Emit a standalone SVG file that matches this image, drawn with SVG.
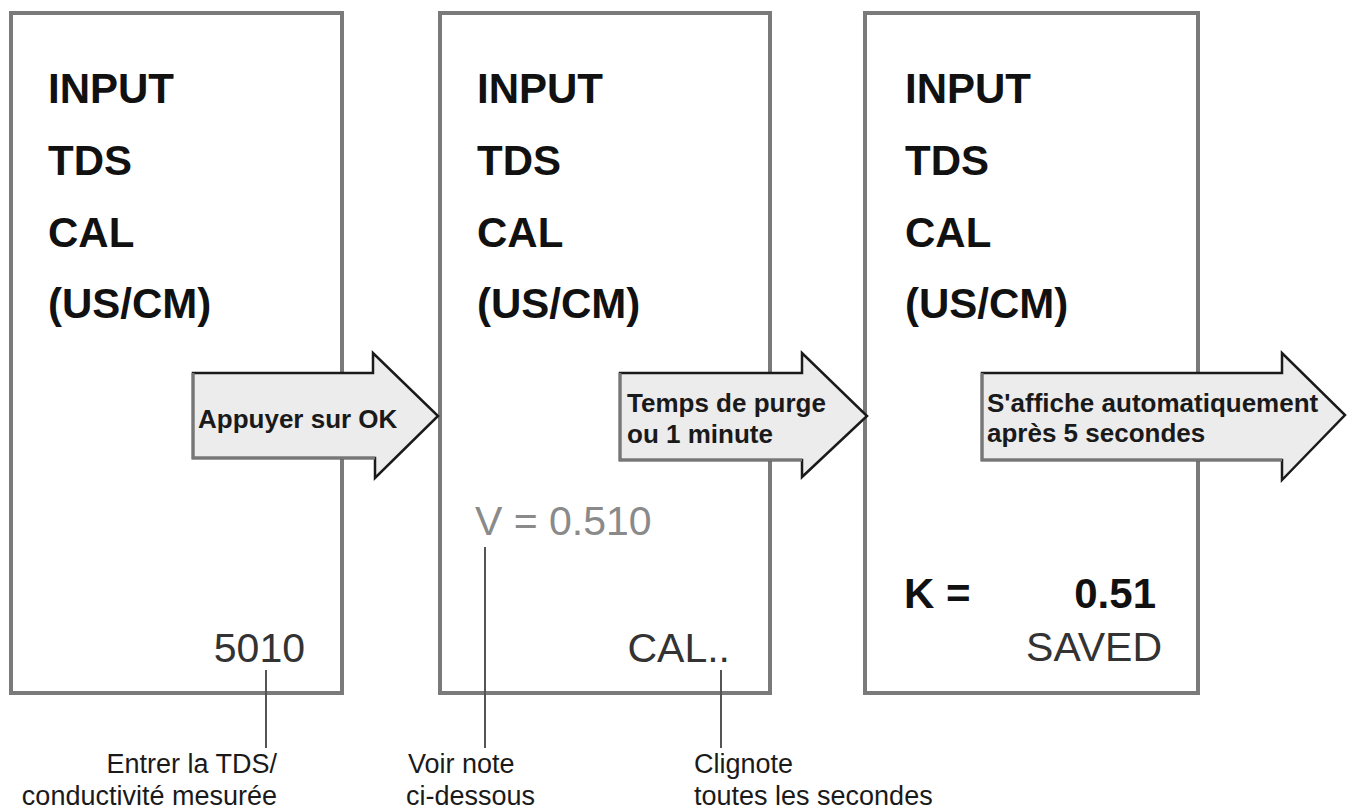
<svg xmlns="http://www.w3.org/2000/svg" width="1349" height="809" viewBox="0 0 1349 809">
<style>
.box{fill:#fff;stroke:#7a7a7a;stroke-width:4}
.big{font-family:"Liberation Sans",Arial,sans-serif;font-size:42px;font-weight:bold;fill:#111}
.disp{font-family:"Liberation Sans",Arial,sans-serif;font-size:41px;fill:#333}
.dim{fill:#8a8a8a}
.arrow{fill:#ececec;stroke:#1a1a1a;stroke-width:2.5;stroke-linejoin:miter}
.ashadow{fill:none;stroke:#777;stroke-width:3}
.atext{font-family:"Liberation Sans",Arial,sans-serif;font-size:26px;font-weight:bold;fill:#1a1a1a}
.note{font-family:"Liberation Sans",Arial,sans-serif;font-size:27px;fill:#1a1a1a}
.lead{stroke:#555;stroke-width:2;fill:none}
</style>
<rect width="1349" height="809" fill="#fff"/>

<g id="screen1">
<rect class="box" x="11" y="13" width="331" height="680"/>
<text class="big" x="48" y="103">INPUT</text>
<text class="big" x="48" y="175">TDS</text>
<text class="big" x="48" y="247">CAL</text>
<text class="big" x="48" y="318">(US/CM)</text>
<text class="disp" x="305" y="662" text-anchor="end">5010</text>
</g>

<g id="screen2">
<rect class="box" x="440" y="13" width="330" height="680"/>
<text class="big" x="477" y="103">INPUT</text>
<text class="big" x="477" y="175">TDS</text>
<text class="big" x="477" y="247">CAL</text>
<text class="big" x="477" y="318">(US/CM)</text>
<text class="disp dim" x="475" y="535" font-size="40">V = 0.510</text>
<text class="disp" x="730" y="662" text-anchor="end">CAL..</text>
</g>

<g id="screen3">
<rect class="box" x="865" y="13" width="333" height="680"/>
<text class="big" x="905" y="103">INPUT</text>
<text class="big" x="905" y="175">TDS</text>
<text class="big" x="905" y="247">CAL</text>
<text class="big" x="905" y="318">(US/CM)</text>
<text class="big" x="904" y="608" font-size="40">K =</text>
<text class="big" x="1156" y="608" font-size="40" text-anchor="end">0.51</text>
<text class="disp" x="1162" y="661" text-anchor="end">SAVED</text>
</g>

<g id="connectors">
<g id="arrow1">
<polygon class="arrow" points="193,373 373,373 373,353 438,416 375,478 375,458 193,458"/>
<polyline class="ashadow" points="193,373 193,458 375,458"/>
<text class="atext" x="198" y="428">Appuyer sur OK</text>
</g>
<g id="arrow2">
<polygon class="arrow" points="620,373 802,373 802,353 867,416 802,477 802,460 620,460"/>
<polyline class="ashadow" points="620,373 620,460 802,460"/>
<text class="atext" x="627" y="412">Temps de purge</text>
<text class="atext" x="627" y="443">ou 1 minute</text>
</g>
<g id="arrow3">
<polygon class="arrow" points="982,373 1282,373 1282,353 1345,415 1282,480 1282,460 982,460"/>
<polyline class="ashadow" points="982,373 982,460 1282,460"/>
<text class="atext" x="987" y="412" font-size="24.5">S'affiche automatiquement</text>
<text class="atext" x="987" y="442" font-size="24.5">après 5 secondes</text>
</g>
<line class="lead" x1="266" y1="670" x2="266" y2="748"/>
<line class="lead" x1="485" y1="547" x2="485" y2="748"/>
<line class="lead" x1="721" y1="670" x2="721" y2="748"/>
</g>

<g id="labels">
<text class="note" x="277" y="773" text-anchor="end">Entrer la TDS/</text>
<text class="note" x="277" y="805" text-anchor="end">conductivité mesurée</text>
<text class="note" x="408" y="773">Voir note</text>
<text class="note" x="406" y="805">ci-dessous</text>
<text class="note" x="694" y="773">Clignote</text>
<text class="note" x="694" y="805">toutes les secondes</text>
</g>
</svg>
